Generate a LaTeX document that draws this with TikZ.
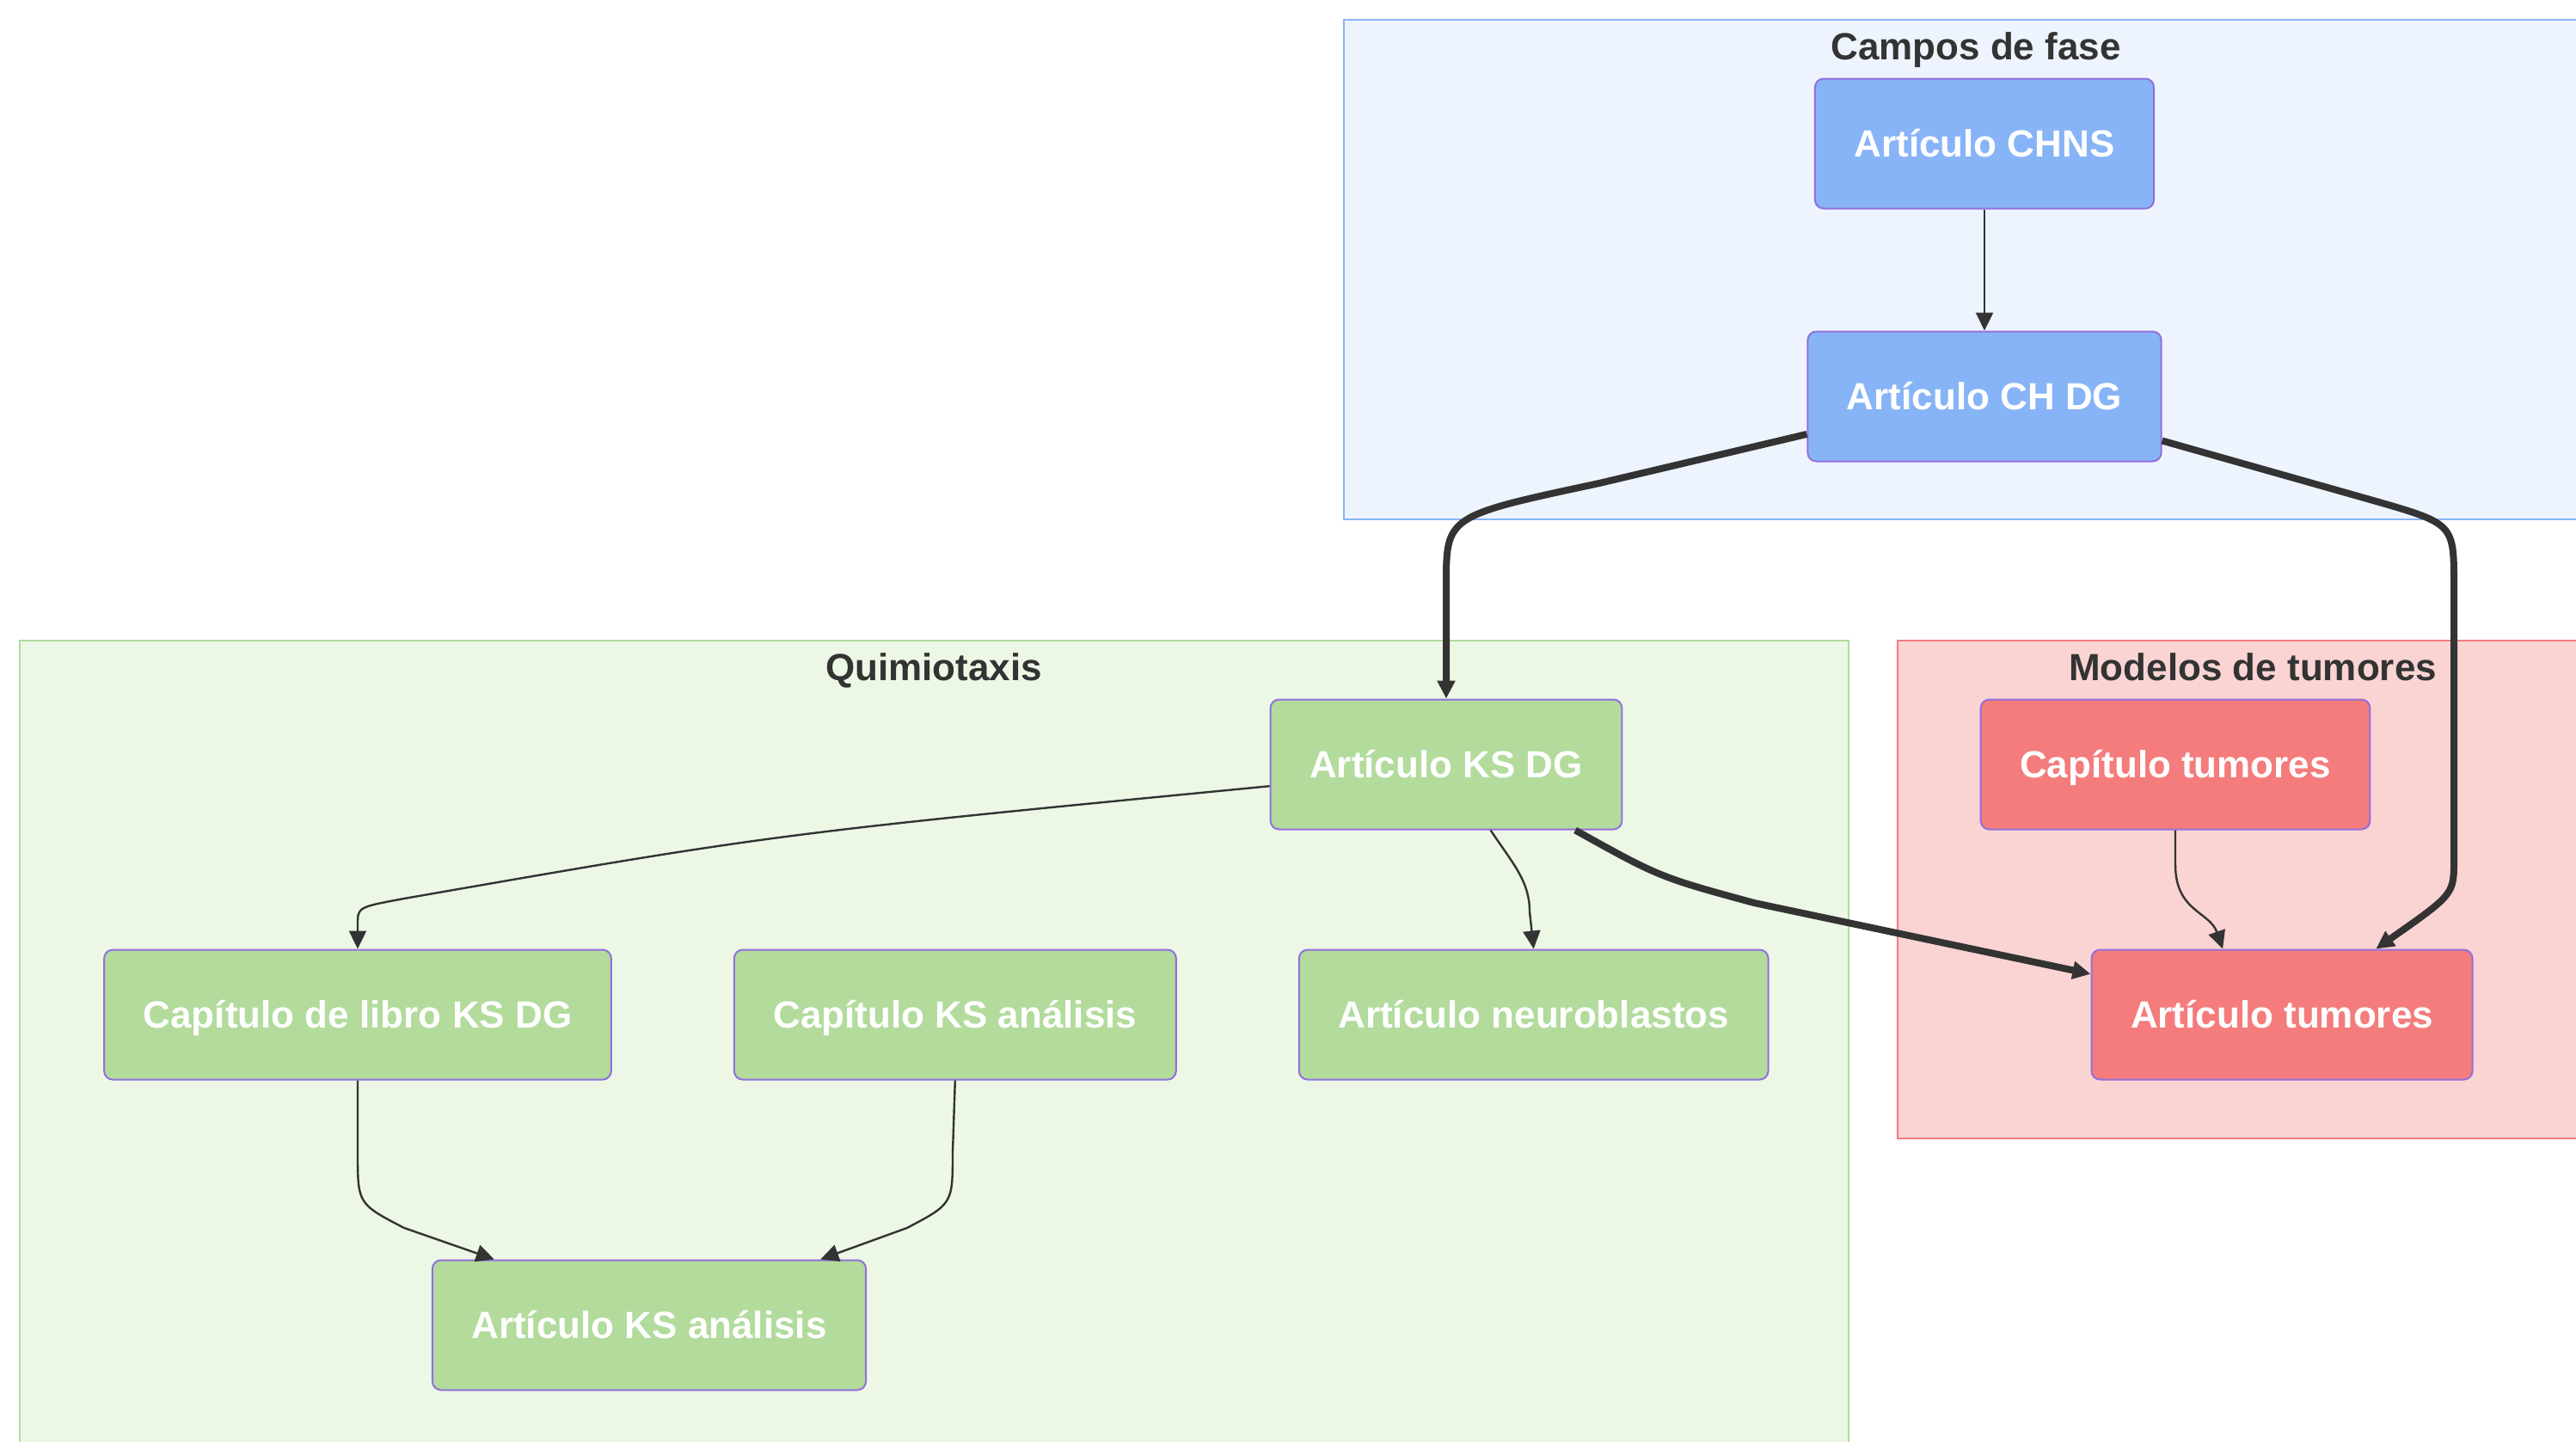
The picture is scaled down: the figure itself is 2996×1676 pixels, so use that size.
\documentclass[tikz,border=0pt]{standalone}
\usepackage{fontspec}
\setmainfont{Liberation Sans}
\usetikzlibrary{positioning, arrows.meta}
\definecolor{blue node}{HTML}{87B4F7}
\definecolor{blue cluster}{HTML}{EDF4FE}
\definecolor{green node}{HTML}{B2DB9C}
\definecolor{green cluster}{HTML}{ECF8E5}
\definecolor{red node}{HTML}{F47C7C}
\definecolor{red cluster}{HTML}{FAD3D3}
\definecolor{box border}{HTML}{9370DB}
\definecolor{link gray}{HTML}{333333}

\begin{document}
\begin{tikzpicture}[x=0.5pt, y=-0.5pt, node distance=70.5pt,
    font=\fontsize{22}{26}\selectfont\bfseries,
    box/.style={draw=box border, line width=1pt, rounded corners=5pt, text=white,
        minimum height=75.5pt, inner xsep=22.75pt, text height=15.75pt, text depth=0pt},
    blue box/.style={box, fill=blue node},
    green box/.style={box, fill=green node},
    red box/.style={box, fill=red node},
    cluster title/.style={text=link gray, anchor=base, inner sep=0pt},
    link/.style={draw=link gray, line width=1.2pt, line join=round, -{Triangle[length=10.5pt, width=10pt]}},
    strong link/.style={link, line width=4pt}]
    \useasboundingbox (0,0) rectangle (2996,1676);
    \begin{scope}
        \clip (0,0) rectangle (2996,1676);
        \draw[fill=blue cluster, draw=blue node, line width=1pt] (1563,23) rectangle (3033,604);
        \draw[fill=green cluster, draw=green node, line width=1pt] (23,745) rectangle (2150,1700);
        \draw[fill=red cluster, draw=red node, line width=1pt] (2207,745) rectangle (3033,1324);
    \end{scope}
    \node[cluster title] (phase title) at (2298,69) {Campos de fase};
    \node[cluster title] (chemo title) at (1086,791) {Quimiotaxis};
    \node[cluster title] (tumour title) at (2620,791) {Modelos de tumores};

    \node[blue box] (CHNS article) at (2308,167) {Artículo CHNS};
    \node[blue box, below=of CHNS article] (CH DG article) {Artículo CH DG};
    \node[green box] (KS DG article) at (1682,889) {Artículo KS DG};
    \node[red box] (tumour chapter) at (2530,889) {Capítulo tumores};
    \node[green box] (book chapter) at (416,1180) {Capítulo de libro KS DG};
    \node[green box, right=of book chapter] (KS analysis chapter) {Capítulo KS análisis};
    \node[green box, right=of KS analysis chapter] (neuroblast article) {Artículo neuroblastos};
    \node[red box] (tumour article) at (2654,1180) {Artículo tumores};
    \node[green box] (KS analysis article) at (755,1541) {Artículo KS análisis};

    \draw[link] (CHNS article) -- (CH DG article);
    \draw[strong link] (CH DG article.192) -- (1860,562) .. controls (1682,600) .. (1682,680) -- (KS DG article.north);
    \draw[strong link] (CH DG article.346) -- (2760,582) .. controls (2854,609) .. (2854,680) -- (2854,1000) .. controls (2854,1040) .. (tumour article.35);
    \draw[link] (KS DG article.187) .. controls (900,970) .. (470,1045) .. controls (416,1055) .. (416,1075) -- (book chapter.north);
    \draw[link] (KS DG article.304) .. controls (1760,1005) and (1779,1025) .. (1779,1060) -- (neuroblast article.north);
    \draw[strong link] (KS DG article.333) .. controls (1930,1020) .. (2040,1050) -- (tumour article.168);
    \draw[link] (tumour chapter.south) -- ++(0,40) .. controls (2530,1060) and (2570,1060) .. (tumour article.132);
    \draw[link] (book chapter.south) -- (416,1340) .. controls (416,1400) .. (470,1428) -- (KS analysis article.157);
    \draw[link] (KS analysis chapter.south) -- (1108,1340) .. controls (1108,1400) .. (1055,1428) -- (KS analysis article.21);
\end{tikzpicture}
\end{document}
